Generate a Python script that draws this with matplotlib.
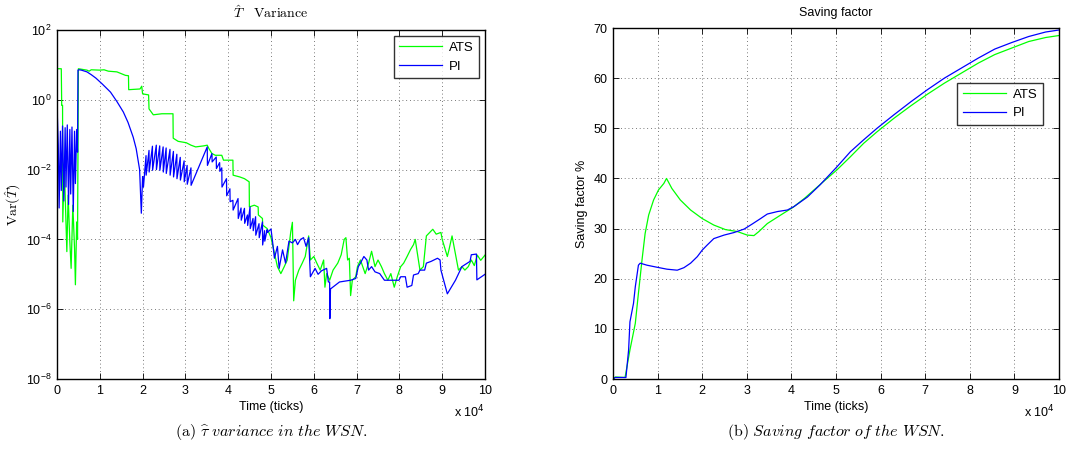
import numpy as np
import matplotlib
matplotlib.use("Agg")
import matplotlib.pyplot as plt
from matplotlib.ticker import FixedLocator, FixedFormatter

plt.rcParams['font.family'] = ['Liberation Sans', 'DejaVu Sans']

# ---------------- data (time in units of 1e4 ticks) ----------------
# (a) variance of T-hat, stored as log10 of the variance
pi_var_t = [0.00, 0.01, 0.03, 0.05, 0.08, 0.10, 0.13, 0.16, 0.19, 0.21, 0.24, 0.27,
            0.30, 0.32, 0.35, 0.38, 0.41, 0.43, 0.46, 0.48, 0.49,
            0.52, 0.57, 0.70, 0.80, 0.91, 1.06, 1.25, 1.40, 1.55, 1.66, 1.78, 1.85,
            1.93, 1.97, 1.99, 2.00, 2.02,
            2.08, 2.083, 2.15, 2.153, 2.23, 2.233, 2.32, 2.323, 2.40, 2.403, 2.48, 2.483,
            2.55, 2.553, 2.64, 2.643, 2.72, 2.723, 2.80, 2.803, 2.88, 2.883, 2.97, 2.973,
            3.04, 3.043, 3.13, 3.133,
            3.51, 3.515, 3.62, 3.625, 3.72, 3.725, 3.80, 3.805, 3.85, 3.855, 3.96, 3.965,
            4.04, 4.045, 4.11, 4.115, 4.23, 4.235, 4.30, 4.305, 4.38, 4.385, 4.45, 4.455,
            4.51, 4.515, 4.58, 4.585, 4.64, 4.645, 4.72, 4.725, 4.80, 4.805, 4.85, 4.855,
            4.91, 4.92, 5.00, 5.04, 5.08, 5.15, 5.19, 5.27, 5.34, 5.42, 5.50, 5.57,
            5.62, 5.69, 5.76, 5.82, 5.88, 5.92, 6.03, 6.10, 6.18, 6.30, 6.34, 6.37,
            6.375, 6.39, 6.60, 6.86, 6.98, 7.04, 7.09, 7.17, 7.24, 7.28, 7.35, 7.43,
            7.54, 7.65, 7.99, 8.03, 8.14, 8.18, 8.29, 8.33, 8.44, 8.48, 8.59, 8.63,
            8.74, 8.89, 8.95, 8.97, 9.12, 9.31, 9.46, 9.65, 9.68, 9.80, 9.81, 10.0]
pi_var_log10 = [1.0, -0.5, -1.3, -3.1, -0.9, -2.6, -0.75, -2.9, -0.8, -2.5, -0.72, -3.0,
                -0.85, -2.7, -0.78, -3.2, -0.9, -2.4, -0.85, -1.5, 0.85,
                0.86, 0.85, 0.80, 0.72, 0.62, 0.45, 0.22, -0.05, -0.35, -0.65, -1.07, -1.40,
                -2.0, -3.25, -2.6, -2.2, -2.5,
                -1.60, -2.16, -1.45, -2.07, -1.33, -2.02, -1.30, -2.00, -1.32, -2.02, -1.35, -2.07,
                -1.38, -2.11, -1.42, -2.16, -1.48, -2.21, -1.56, -2.26, -1.65, -2.30, -1.75, -2.35,
                -1.88, -2.42, -1.95, -2.45,
                -1.35, -1.88, -1.54, -1.78, -1.64, -1.97, -1.80, -2.05, -1.95, -2.50, -2.26, -2.75,
                -2.55, -2.92, -2.88, -3.16, -2.83, -3.40, -3.10, -3.45, -3.11, -3.54, -3.30, -3.60,
                -3.07, -3.69, -3.40, -3.75, -3.35, -3.88, -3.55, -3.95, -3.50, -4.16, -3.75, -4.05,
                -3.72, -3.80, -3.70, -4.10, -4.54, -4.20, -4.83, -4.30, -4.68, -4.05, -4.10, -4.00,
                -4.15, -4.00, -3.95, -4.20, -3.95, -5.07, -4.83, -5.00, -4.90, -4.83, -5.22, -5.22,
                -6.27, -5.42, -5.22, -5.17, -5.12, -4.78, -4.68, -4.49, -4.59, -4.88, -4.78, -4.93,
                -4.98, -5.17, -5.17, -5.07, -5.07, -5.37, -5.32, -5.02, -4.98, -4.88, -4.88, -4.68,
                -4.63, -4.54, -4.59, -4.88, -5.56, -5.17, -4.78, -4.63, -4.44, -4.42, -5.16, -5.00]

ats_var_t = [0.00, 0.10, 0.11, 0.13, 0.135, 0.17, 0.23, 0.26, 0.30, 0.33, 0.37, 0.41,
             0.43, 0.46, 0.48, 0.50, 0.60, 0.70, 0.75, 0.80, 1.00, 1.10, 1.20, 1.40,
             1.50, 1.60, 1.67, 1.675, 1.80, 1.94, 1.98, 2.00, 2.14, 2.15, 2.25, 2.45,
             2.71, 2.715, 2.83, 3.02, 3.13, 3.24, 3.43, 3.51, 3.55, 3.62, 3.70, 3.85,
             3.89, 4.11, 4.115, 4.27, 4.38, 4.49, 4.495, 4.61, 4.70, 4.705, 4.80, 4.805,
             4.91, 5.00, 5.08, 5.15, 5.23, 5.31, 5.38, 5.46, 5.50, 5.51, 5.53, 5.57,
             5.65, 5.73, 5.80, 5.84, 5.88, 5.92, 6.00, 6.07, 6.15, 6.23, 6.26, 6.30,
             6.37, 6.45, 6.56, 6.64, 6.71, 6.75, 6.79, 6.83, 6.86, 6.90, 6.98, 7.02,
             7.09, 7.20, 7.28, 7.35, 7.43, 7.50, 7.58, 7.65, 7.73, 7.80, 7.88, 7.95,
             8.03, 8.10, 8.18, 8.26, 8.33, 8.37, 8.48, 8.56, 8.63, 8.71, 8.78, 8.86,
             8.97, 9.00, 9.12, 9.16, 9.23, 9.35, 9.38, 9.46, 9.53, 9.61, 9.68, 9.75,
             9.82, 9.90, 10.0]
ats_var_log10 = [0.89, 0.89, -0.16, -0.16, -3.5, -1.88, -4.35, -2.73, -4.07, -4.83, -3.02, -4.26,
                 -5.3, -3.5, -4.0, 0.89, 0.87, 0.85, 0.82, 0.86, 0.85, 0.86, 0.82, 0.80,
                 0.75, 0.70, 0.69, 0.29, 0.30, 0.31, 0.39, 0.17, 0.14, -0.26, -0.43, -0.40,
                 -0.40, -1.10, -1.19, -1.23, -1.30, -1.35, -1.32, -1.30, -1.40, -1.54, -1.59, -1.59,
                 -1.73, -1.73, -2.16, -2.21, -2.26, -2.35, -3.07, -3.02, -3.07, -3.30, -3.40, -3.59,
                 -3.69, -3.95, -4.39, -4.78, -4.98, -4.78, -4.59, -3.80, -3.51, -4.20, -5.76, -5.17,
                 -4.88, -4.68, -4.49, -4.20, -3.90, -4.59, -4.49, -4.68, -4.88, -4.59, -5.37, -4.98,
                 -5.17, -4.88, -4.68, -4.44, -4.00, -3.95, -4.59, -4.54, -5.61, -5.17, -5.07, -4.78,
                 -4.59, -4.98, -4.68, -4.34, -4.78, -4.59, -4.78, -4.98, -5.17, -4.98, -5.37, -5.07,
                 -4.78, -4.68, -4.49, -4.29, -4.15, -4.00, -4.88, -4.78, -3.90, -3.80, -3.71, -3.85,
                 -3.80, -4.00, -4.49, -4.29, -3.90, -4.68, -4.88, -4.78, -4.88, -4.78, -4.59, -4.75,
                 -4.45, -4.60, -4.45]

# (b) saving factor in %
ats_sf_t = [0.00, 0.05, 0.27, 0.38, 0.50, 0.57, 0.65, 0.72, 0.80, 0.91, 1.02, 1.14,
            1.20, 1.32, 1.51, 1.74, 2.00, 2.26, 2.52, 2.79, 3.01, 3.16, 3.27, 3.46,
            3.76, 4.03, 4.29, 4.71, 5.02, 5.32, 5.62, 5.92, 6.30, 6.68, 7.05, 7.43,
            7.81, 8.19, 8.56, 8.94, 9.32, 9.70, 10.0]
ats_sf = [0.0, 0.4, 0.3, 5.8, 11.1, 17.1, 23.7, 29.0, 32.7, 35.7, 37.7, 39.0,
          40.0, 38.0, 35.7, 33.7, 32.0, 30.7, 29.8, 29.4, 28.7, 28.6, 29.4, 31.0,
          32.7, 34.2, 36.0, 39.3, 41.7, 44.3, 47.0, 49.3, 52.0, 54.5, 56.8, 59.0,
          61.0, 63.0, 64.7, 66.0, 67.3, 68.1, 68.5]
pi_sf_t = [0.00, 0.05, 0.29, 0.35, 0.38, 0.46, 0.50, 0.57, 0.61, 0.76, 0.98, 1.21,
           1.44, 1.59, 1.74, 1.89, 2.00, 2.11, 2.26, 2.49, 2.71, 2.94, 3.12, 3.31,
           3.46, 3.69, 3.91, 4.06, 4.36, 4.64, 5.02, 5.32, 5.62, 5.92, 6.30, 6.68,
           7.05, 7.43, 7.81, 8.19, 8.56, 8.94, 9.32, 9.70, 10.0]
pi_sf = [0.0, 0.3, 0.3, 5.8, 11.4, 15.1, 18.4, 22.7, 23.1, 22.7, 22.3, 21.9,
         21.7, 22.2, 23.1, 24.4, 25.7, 26.7, 28.0, 28.7, 29.2, 29.9, 30.9, 32.0,
         32.9, 33.4, 33.7, 34.4, 36.3, 38.7, 42.3, 45.3, 47.7, 50.0, 52.7, 55.3,
         57.7, 60.0, 62.0, 64.0, 65.8, 67.1, 68.3, 69.2, 69.6]

series_labels = ["ATS", "PI"]
x_ticks = list(range(0, 11))
var_ticks_exp = [2, 0, -2, -4, -6, -8]
sf_ticks = [0, 10, 20, 30, 40, 50, 60, 70]

GREEN = "#00ff00"
BLUE = "#0000ff"

# ---------------- figure ----------------
W, H = 1067, 469
fig = plt.figure(figsize=(W / 100, H / 100), dpi=100)

def px_rect(l, t, r, b):
    return [l / W, 1 - b / H, (r - l) / W, (b - t) / H]

ax1 = fig.add_axes(px_rect(57, 30, 485, 379))
ax2 = fig.add_axes(px_rect(613, 28, 1059, 379))

def style_axes(ax):
    for s in ax.spines.values():
        s.set_linewidth(1.0)
        s.set_color("black")
    ax.tick_params(direction="in", length=4, width=0.6, top=True, right=True,
                   labelsize=9, pad=4, colors="black")
    ax.tick_params(which="minor", length=0)
    ax.grid(True, which="major", color="0.3", linestyle=(0, (1, 3.5)), linewidth=0.6)
    ax.set_axisbelow(True)

def style_legend(leg):
    fr = leg.get_frame()
    fr.set_edgecolor("black")
    fr.set_linewidth(1.0)

legend_kw = dict(fontsize=9.5, frameon=True, fancybox=False, handlelength=3.3,
                 handletextpad=0.5, borderpad=0.4, labelspacing=0.5, borderaxespad=0)

# (a)
ax1.plot(ats_var_t, 10.0 ** np.array(ats_var_log10), color=GREEN, lw=0.9, label=series_labels[0])
ax1.plot(pi_var_t, 10.0 ** np.array(pi_var_log10), color=BLUE, lw=0.9, label=series_labels[1])
ax1.set_yscale("log")
ax1.set_xlim(0, 10)
ax1.set_ylim(1e-8, 1e2)
ax1.xaxis.set_major_locator(FixedLocator(x_ticks))
ax1.xaxis.set_major_formatter(FixedFormatter([str(v) for v in x_ticks]))
ax1.yaxis.set_major_locator(FixedLocator([10.0 ** e for e in var_ticks_exp]))
ax1.yaxis.set_minor_locator(FixedLocator([]))
ax1.yaxis.set_major_formatter(FixedFormatter(
    [r"$\mathdefault{10^{%d}}$" % e for e in var_ticks_exp]))
style_axes(ax1)
ax1.set_xlabel("Time (ticks)", fontsize=9, labelpad=3)
ax1.set_ylabel(r"$\mathrm{Var}(\hat{T})$", fontsize=10, math_fontfamily="cm", labelpad=2)
ax1.set_title(r"$\hat{T}\quad\mathrm{Variance}$", fontsize=10, math_fontfamily="cm", pad=9)
leg1 = ax1.legend(loc="upper right", bbox_to_anchor=(0.986, 0.982), **legend_kw)
style_legend(leg1)

# (b)
ax2.plot(ats_sf_t, ats_sf, color=GREEN, lw=0.9, label=series_labels[0])
ax2.plot(pi_sf_t, pi_sf, color=BLUE, lw=0.9, label=series_labels[1])
ax2.set_xlim(0, 10)
ax2.set_ylim(0, 70)
ax2.xaxis.set_major_locator(FixedLocator(x_ticks))
ax2.xaxis.set_major_formatter(FixedFormatter([str(v) for v in x_ticks]))
ax2.yaxis.set_major_locator(FixedLocator(sf_ticks))
style_axes(ax2)
ax2.set_xlabel("Time (ticks)", fontsize=9, labelpad=3)
ax2.set_ylabel("Saving factor %", fontsize=9, labelpad=4)
ax2.set_title("Saving factor", fontsize=9, pad=9)
leg2 = ax2.legend(loc="upper right", bbox_to_anchor=(0.964, 0.843), **legend_kw)
style_legend(leg2)

# exponent labels
fig.text(485 / W, 1 - 417 / H, r"x 10$^{4}$", ha="right", va="baseline", fontsize=9)
fig.text(1055 / W, 1 - 417 / H, r"x 10$^{4}$", ha="right", va="baseline", fontsize=9)

# captions
fig.text(271 / W, 1 - 436 / H,
         r"$\mathrm{(a)}\ \widehat{\tau}\ \mathit{variance\ in\ the\ WSN.}$",
         ha="center", va="baseline", fontsize=11.5, math_fontfamily="cm")
fig.text(836 / W, 1 - 436 / H,
         r"$\mathrm{(b)}\ \mathit{Saving\ factor\ of\ the\ WSN.}$",
         ha="center", va="baseline", fontsize=11.5, math_fontfamily="cm")

fig.savefig("out.png", dpi=100)
